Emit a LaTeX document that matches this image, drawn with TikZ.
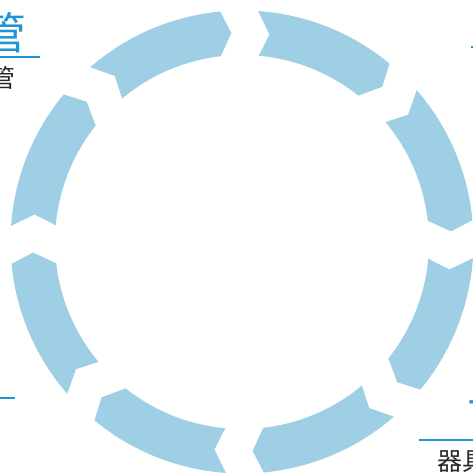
\documentclass[tikz,border=0pt]{standalone}
\usepackage{fontspec}
\newfontfamily\cjk{Noto Sans CJK SC}
\definecolor{ringblue}{RGB}{158,207,229}
\definecolor{titleblue}{RGB}{30,150,210}
\definecolor{bodytext}{RGB}{40,40,40}
\begin{document}
\begin{tikzpicture}[x=1pt,y=1pt,
  arrowseg/.style={fill=ringblue,draw=none},
  titletext/.style={inner sep=0pt,text=titleblue,font=\cjk\fontsize{44}{44}\selectfont},
  bodytxt/.style={inner sep=0pt,text=bodytext,font=\cjk\fontsize{25}{25}\selectfont},
  ruleline/.style={draw=titleblue,line width=1.5pt}]
\useasboundingbox (0,0) rectangle (473,474);
\clip (0,0) rectangle (473,474);
% ring of eight arrow segments
\begin{scope}[shift={(242,232)}]
\foreach \k in {0,...,7}{
  \pgfmathsetmacro{\ta}{90.7-45*\k}
  \pgfmathsetmacro{\tb}{\ta-45}
  \pgfmathsetmacro{\aoa}{\ta-4.708}
  \pgfmathsetmacro{\aob}{\tb+4.708}
  \pgfmathsetmacro{\atip}{\tb+2.191}
  \pgfmathsetmacro{\aib}{\tb+5.831}
  \pgfmathsetmacro{\aia}{\ta-5.831}
  \pgfmathsetmacro{\anotch}{\ta-8.243}
  \fill[arrowseg] (\aoa:231.5pt) arc[start angle=\aoa, end angle=\aob, radius=231.5pt]
    -- (\atip:209.25pt) -- (\aib:187pt)
    arc[start angle=\aib, end angle=\aia, radius=187pt]
    -- (\anotch:209.25pt) -- cycle;
}
\end{scope}
% clipped labels
\node[titletext,anchor=base east] (tl) at (26.5,424) {管};
\node[bodytxt,anchor=base east] (tlb) at (16,386) {管};
\coordinate (tlA) at (0,417);
\coordinate (tlB) at (40,417);
\draw[ruleline] (tlA) -- (tlB);
\coordinate (blA) at (0,76);
\coordinate (blB) at (15,76);
\draw[ruleline] (blA) -- (blB);
\node[titletext,anchor=base west] (br) at (467,39) {可};
\coordinate (brA) at (419,34);
\coordinate (brB) at (473,34);
\draw[ruleline] (brA) -- (brB);
\node[bodytxt,anchor=base west] (brb) at (437,3.5) {器具};
\fill[titleblue] (470.5,425.5) rectangle (473,428);
\end{tikzpicture}
\end{document}
